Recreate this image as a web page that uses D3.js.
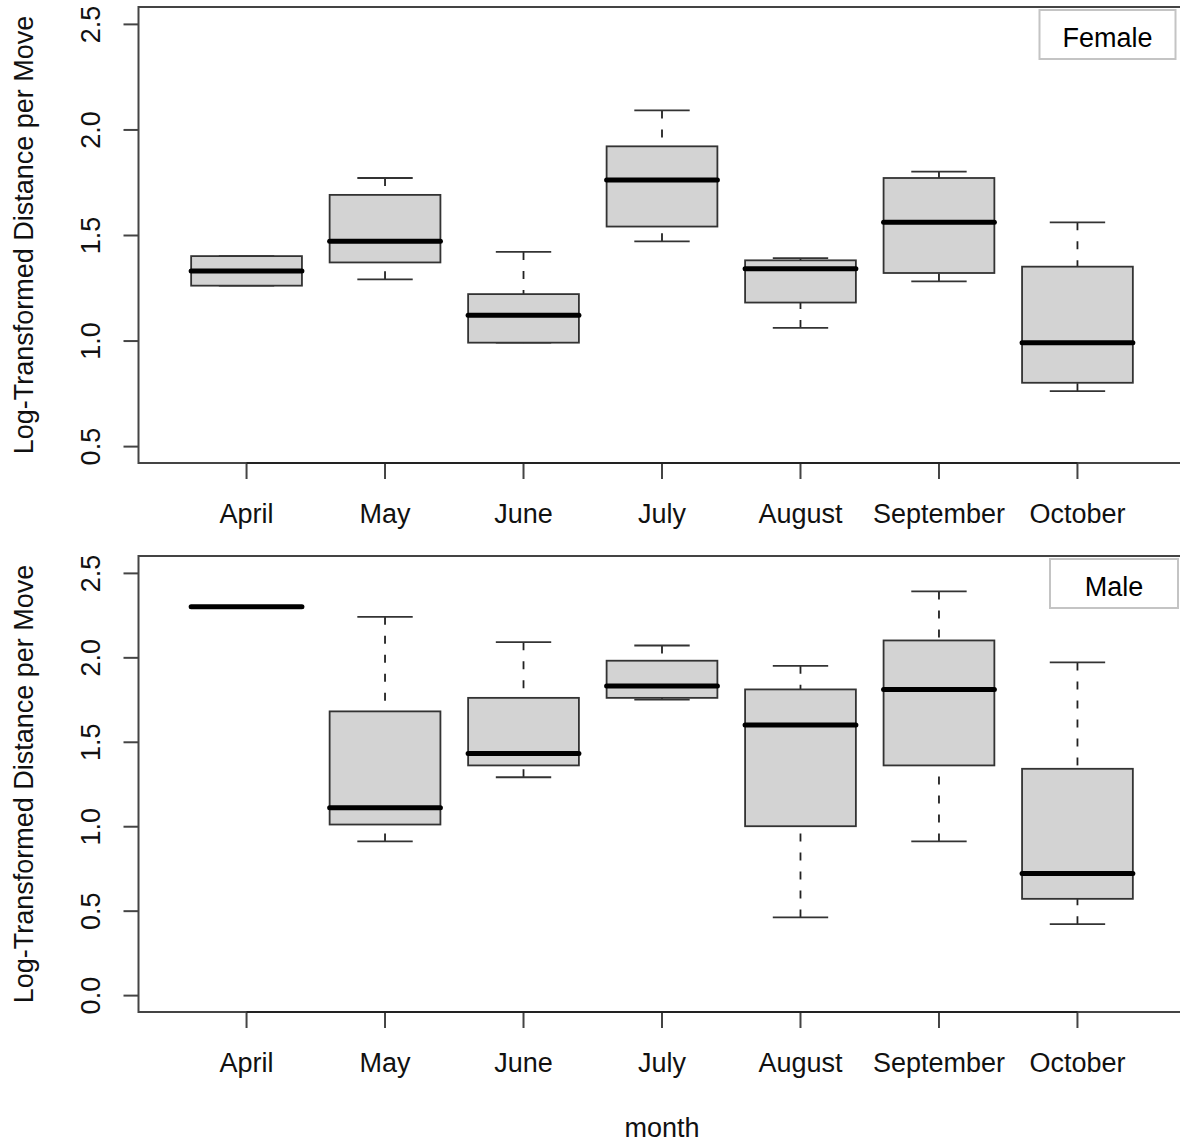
<!DOCTYPE html>
<html>
<head>
<meta charset="utf-8">
<script src="https://cdn.jsdelivr.net/npm/d3@7"></script>
<style>
  html, body { margin: 0; padding: 0; background: #fff; }
  svg { display: block; font-family: "Liberation Sans", Arial, sans-serif; }
</style>
</head>
<body>
<svg id="chart" width="1180" height="1143"></svg>
<script>
// Months on the x axis
const months = ["April", "May", "June", "July", "August", "September", "October"];

// Female: five-number summaries per month (lower whisker, Q1, median, Q3, upper whisker)
const femaleLow    = [1.26, 1.29, 0.99, 1.47, 1.06, 1.28, 0.76];
const femaleQ1     = [1.26, 1.37, 0.99, 1.54, 1.18, 1.32, 0.80];
const femaleMedian = [1.33, 1.47, 1.12, 1.76, 1.34, 1.56, 0.99];
const femaleQ3     = [1.40, 1.69, 1.22, 1.92, 1.38, 1.77, 1.35];
const femaleHigh   = [1.40, 1.77, 1.42, 2.09, 1.39, 1.80, 1.56];

// Male: five-number summaries per month
const maleLow    = [2.30, 0.91, 1.29, 1.75, 0.46, 0.91, 0.42];
const maleQ1     = [2.30, 1.01, 1.36, 1.76, 1.00, 1.36, 0.57];
const maleMedian = [2.30, 1.11, 1.43, 1.83, 1.60, 1.81, 0.72];
const maleQ3     = [2.30, 1.68, 1.76, 1.98, 1.81, 2.10, 1.34];
const maleHigh   = [2.30, 2.24, 2.09, 2.07, 1.95, 2.39, 1.97];

// Axis tick values
const femaleTicks = [0.5, 1.0, 1.5, 2.0, 2.5];
const maleTicks   = [0.0, 0.5, 1.0, 1.5, 2.0, 2.5];

const yTitle = "Log-Transformed Distance per Move";
const xTitle = "month";

const svg = d3.select("#chart");
const FONT = 27;

// Plot region horizontal extent (same for both panels)
const frameLeft = 138.5, frameRight = 1185.7;
const x = d3.scaleBand()
  .domain(months)
  .range([177.3, 1146.7])
  .paddingInner(0.2)
  .paddingOuter(0.1);

function summaries(low, q1, med, q3, high) {
  return months.map((m, i) => ({ month: m, low: low[i], q1: q1[i], med: med[i], q3: q3[i], high: high[i] }));
}

const panels = [
  {
    label: "Female",
    data: summaries(femaleLow, femaleQ1, femaleMedian, femaleQ3, femaleHigh),
    ticks: femaleTicks,
    domain: [0.42, 2.58],
    top: 7, bottom: 463,
    legend: { x: 1039.5, y: 10, w: 136, h: 49 }
  },
  {
    label: "Male",
    data: summaries(maleLow, maleQ1, maleMedian, maleQ3, maleHigh),
    ticks: maleTicks,
    domain: [-0.1, 2.6],
    top: 556, bottom: 1012,
    legend: { x: 1050, y: 559, w: 128, h: 49 }
  }
];

panels.forEach(p => {
  const y = d3.scaleLinear().domain(p.domain).range([p.bottom, p.top]);
  const g = svg.append("g");

  // Boxes
  const bw = x.bandwidth();
  const box = g.selectAll("g.box").data(p.data).enter().append("g").attr("class", "box");
  const cx = d => x(d.month) + bw / 2;

  // whiskers (dashed), drawn from whisker end toward the box
  box.append("line")
    .attr("x1", cx).attr("x2", cx)
    .attr("y1", d => y(d.high)).attr("y2", d => y(d.q3))
    .attr("stroke", "#222").attr("stroke-width", 1.8)
    .attr("stroke-dasharray", "8,11");
  box.append("line")
    .attr("x1", cx).attr("x2", cx)
    .attr("y1", d => y(d.low)).attr("y2", d => y(d.q1))
    .attr("stroke", "#222").attr("stroke-width", 1.8)
    .attr("stroke-dasharray", "8,11");

  // staples
  [["high"], ["low"]].forEach(([k]) => {
    box.append("line")
      .attr("x1", d => cx(d) - bw / 4).attr("x2", d => cx(d) + bw / 4)
      .attr("y1", d => y(d[k])).attr("y2", d => y(d[k]))
      .attr("stroke", "#333").attr("stroke-width", 1.8);
  });

  // box body
  box.append("rect")
    .attr("x", d => x(d.month))
    .attr("width", bw)
    .attr("y", d => y(d.q3))
    .attr("height", d => y(d.q1) - y(d.q3))
    .attr("fill", "#d3d3d3")
    .attr("stroke", "#333").attr("stroke-width", 1.8);

  // median
  box.append("line")
    .attr("x1", d => x(d.month)).attr("x2", d => x(d.month) + bw)
    .attr("y1", d => y(d.med)).attr("y2", d => y(d.med))
    .attr("stroke", "#000").attr("stroke-width", 5)
    .attr("stroke-linecap", "round");

  // Frame around the plot region
  g.append("rect")
    .attr("x", frameLeft).attr("y", p.top)
    .attr("width", frameRight - frameLeft).attr("height", p.bottom - p.top)
    .attr("fill", "none").attr("stroke", "#444").attr("stroke-width", 2);

  // Y axis
  const yAxis = g.append("g")
    .attr("transform", `translate(${frameLeft},0)`)
    .call(d3.axisLeft(y).tickValues(p.ticks).tickFormat(d3.format(".1f")).tickSize(15).tickSizeOuter(0));
  yAxis.select(".domain").remove();
  yAxis.selectAll(".tick line").attr("stroke", "#444").attr("stroke-width", 2);
  yAxis.selectAll(".tick text")
    .attr("font-size", FONT)
    .attr("font-family", "Liberation Sans, Arial, sans-serif")
    .attr("fill", "#111")
    .attr("text-anchor", "middle")
    .attr("transform", "rotate(-90)")
    .attr("x", 0)
    .attr("y", -38.5)
    .attr("dy", 0);

  // X axis
  const xAxis = g.append("g")
    .attr("transform", `translate(0,${p.bottom})`)
    .call(d3.axisBottom(x).tickSize(16).tickSizeOuter(0));
  xAxis.select(".domain").remove();
  xAxis.selectAll(".tick line").attr("stroke", "#444").attr("stroke-width", 2);
  xAxis.selectAll(".tick text")
    .attr("font-size", FONT)
    .attr("font-family", "Liberation Sans, Arial, sans-serif")
    .attr("fill", "#111")
    .attr("y", 60)
    .attr("dy", 0);
  // axis line from first to last tick
  g.append("line")
    .attr("x1", x(months[0]) + bw / 2).attr("x2", x(months[months.length - 1]) + bw / 2)
    .attr("y1", p.bottom).attr("y2", p.bottom)
    .attr("stroke", "#222").attr("stroke-width", 2);

  // Y title
  g.append("text")
    .attr("transform", `translate(33,${(p.top + p.bottom) / 2}) rotate(-90)`)
    .attr("text-anchor", "middle")
    .attr("font-size", FONT)
    .attr("fill", "#111")
    .text(yTitle);

  // Legend
  g.append("rect")
    .attr("x", p.legend.x).attr("y", p.legend.y)
    .attr("width", p.legend.w).attr("height", p.legend.h)
    .attr("fill", "#fff").attr("stroke", "#c4c4c4").attr("stroke-width", 2);
  g.append("text")
    .attr("x", p.legend.x + p.legend.w / 2)
    .attr("y", p.legend.y + 36.5)
    .attr("text-anchor", "middle")
    .attr("font-size", FONT)
    .attr("fill", "#000")
    .text(p.label);
});

// X title
svg.append("text")
  .attr("x", (frameLeft + frameRight) / 2)
  .attr("y", 1137)
  .attr("text-anchor", "middle")
  .attr("font-size", FONT)
  .attr("fill", "#111")
  .text(xTitle);
</script>
</body>
</html>
